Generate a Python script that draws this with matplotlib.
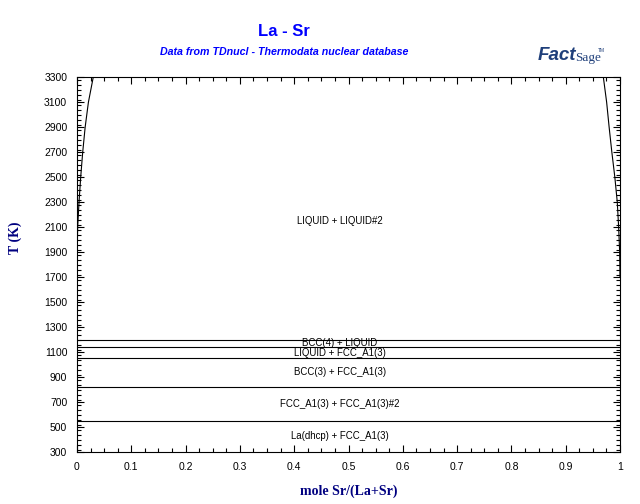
import matplotlib
matplotlib.use("Agg")
import matplotlib.pyplot as plt
from matplotlib.ticker import MultipleLocator

# ---- data ----
# left liquid miscibility boundary (x, T)
left_T = [3300, 3098, 2898, 2698, 2498, 2298, 2098, 1898, 1700]
left_x = [0.030, 0.021, 0.0150, 0.0105, 0.0068, 0.0037, 0.0012, 0.0004, 0.0]
# right liquid miscibility boundary
right_T = [3300, 3098, 2898, 2698, 2498, 2298, 2098, 1898, 1700]
right_x = [0.9693, 0.9754, 0.9800, 0.9850, 0.9905, 0.995, 0.9975, 0.9994, 1.0]
# invariant horizontal lines (K)
iso_T = [1196, 1138, 1050, 818, 548]
# region labels
region_labels = ["LIQUID + LIQUID#2", "BCC(4) + LIQUID", "LIQUID + FCC_A1(3)",
                 "BCC(3) + FCC_A1(3)", "FCC_A1(3) + FCC_A1(3)#2", "La(dhcp) + FCC_A1(3)"]
label_x = [0.484, 0.484, 0.484, 0.484, 0.484, 0.484]
label_T = [2148, 1170, 1090, 938, 684, 430]
xticks = [0, 0.1, 0.2, 0.3, 0.4, 0.5, 0.6, 0.7, 0.8, 0.9, 1]
xtick_labels = ["0", "0.1", "0.2", "0.3", "0.4", "0.5", "0.6", "0.7", "0.8", "0.9", "1"]
yticks = list(range(300, 3301, 200))

fig = plt.figure(figsize=(6.4, 5.04), dpi=100)
ax = fig.add_axes([77/640, 1 - 452/504, (620-77)/640, (452-77)/504])

ax.plot(left_x, left_T, color="black", lw=0.8)
ax.plot(right_x, right_T, color="black", lw=0.8)
for t in iso_T:
    ax.axhline(t, color="black", lw=0.8)

for s, x, t in zip(region_labels, label_x, label_T):
    ax.text(x, t, s, ha="center", va="center", fontsize=6.9,
            family="Liberation Sans", color="black")

ax.set_xlim(0, 1)
ax.set_ylim(300, 3300)
ax.set_xticks(xticks)
ax.set_xticklabels(xtick_labels)
ax.set_yticks(yticks)
ax.xaxis.set_minor_locator(MultipleLocator(0.025))
ax.yaxis.set_minor_locator(MultipleLocator(40))
ax.tick_params(which="both", direction="in", top=True, right=True,
               labelsize=7.5, colors="black", width=0.8, pad=7)
ax.tick_params(which="major", length=5)
ax.tick_params(which="minor", length=3)
for lab in ax.get_xticklabels() + ax.get_yticklabels():
    lab.set_family("Liberation Sans")
for sp in ax.spines.values():
    sp.set_linewidth(0.8)

navy = "#000080"
ax.set_xlabel("mole Sr/(La+Sr)", family="Liberation Serif", fontweight="bold",
              fontsize=10, color=navy, labelpad=9)
fig.text(15/640, 1 - 238/504, "T (K)", rotation=90, ha="center", va="center",
         family="Liberation Serif", fontweight="bold", fontsize=10, color=navy)

fig.text(284/640, 1 - 31/504, "La - Sr", ha="center", va="center",
         family="Liberation Sans", fontweight="bold", fontsize=12, color="#0000ff")
fig.text(284/640, 1 - 52/504, "Data from TDnucl - Thermodata nuclear database",
         ha="center", va="center", family="Liberation Sans", fontweight="bold",
         style="italic", fontsize=7.7, color="#0000ff")

# FactSage logo as text
logo = "#1f3f7a"
fig.text(538/640, 1 - 56/504, "Fact", ha="left", va="center",
         family="Liberation Sans", fontweight="bold", style="italic",
         fontsize=13.5, color=logo)
fig.text(575/640, 1 - 58/504, "Sage", ha="left", va="center",
         family="Liberation Serif", fontsize=9.5, color=logo)
fig.text(598/640, 1 - 50/504, "TM", ha="left", va="center",
         family="Liberation Sans", fontsize=3.5, color=logo)

fig.savefig("out.png", dpi=100)
